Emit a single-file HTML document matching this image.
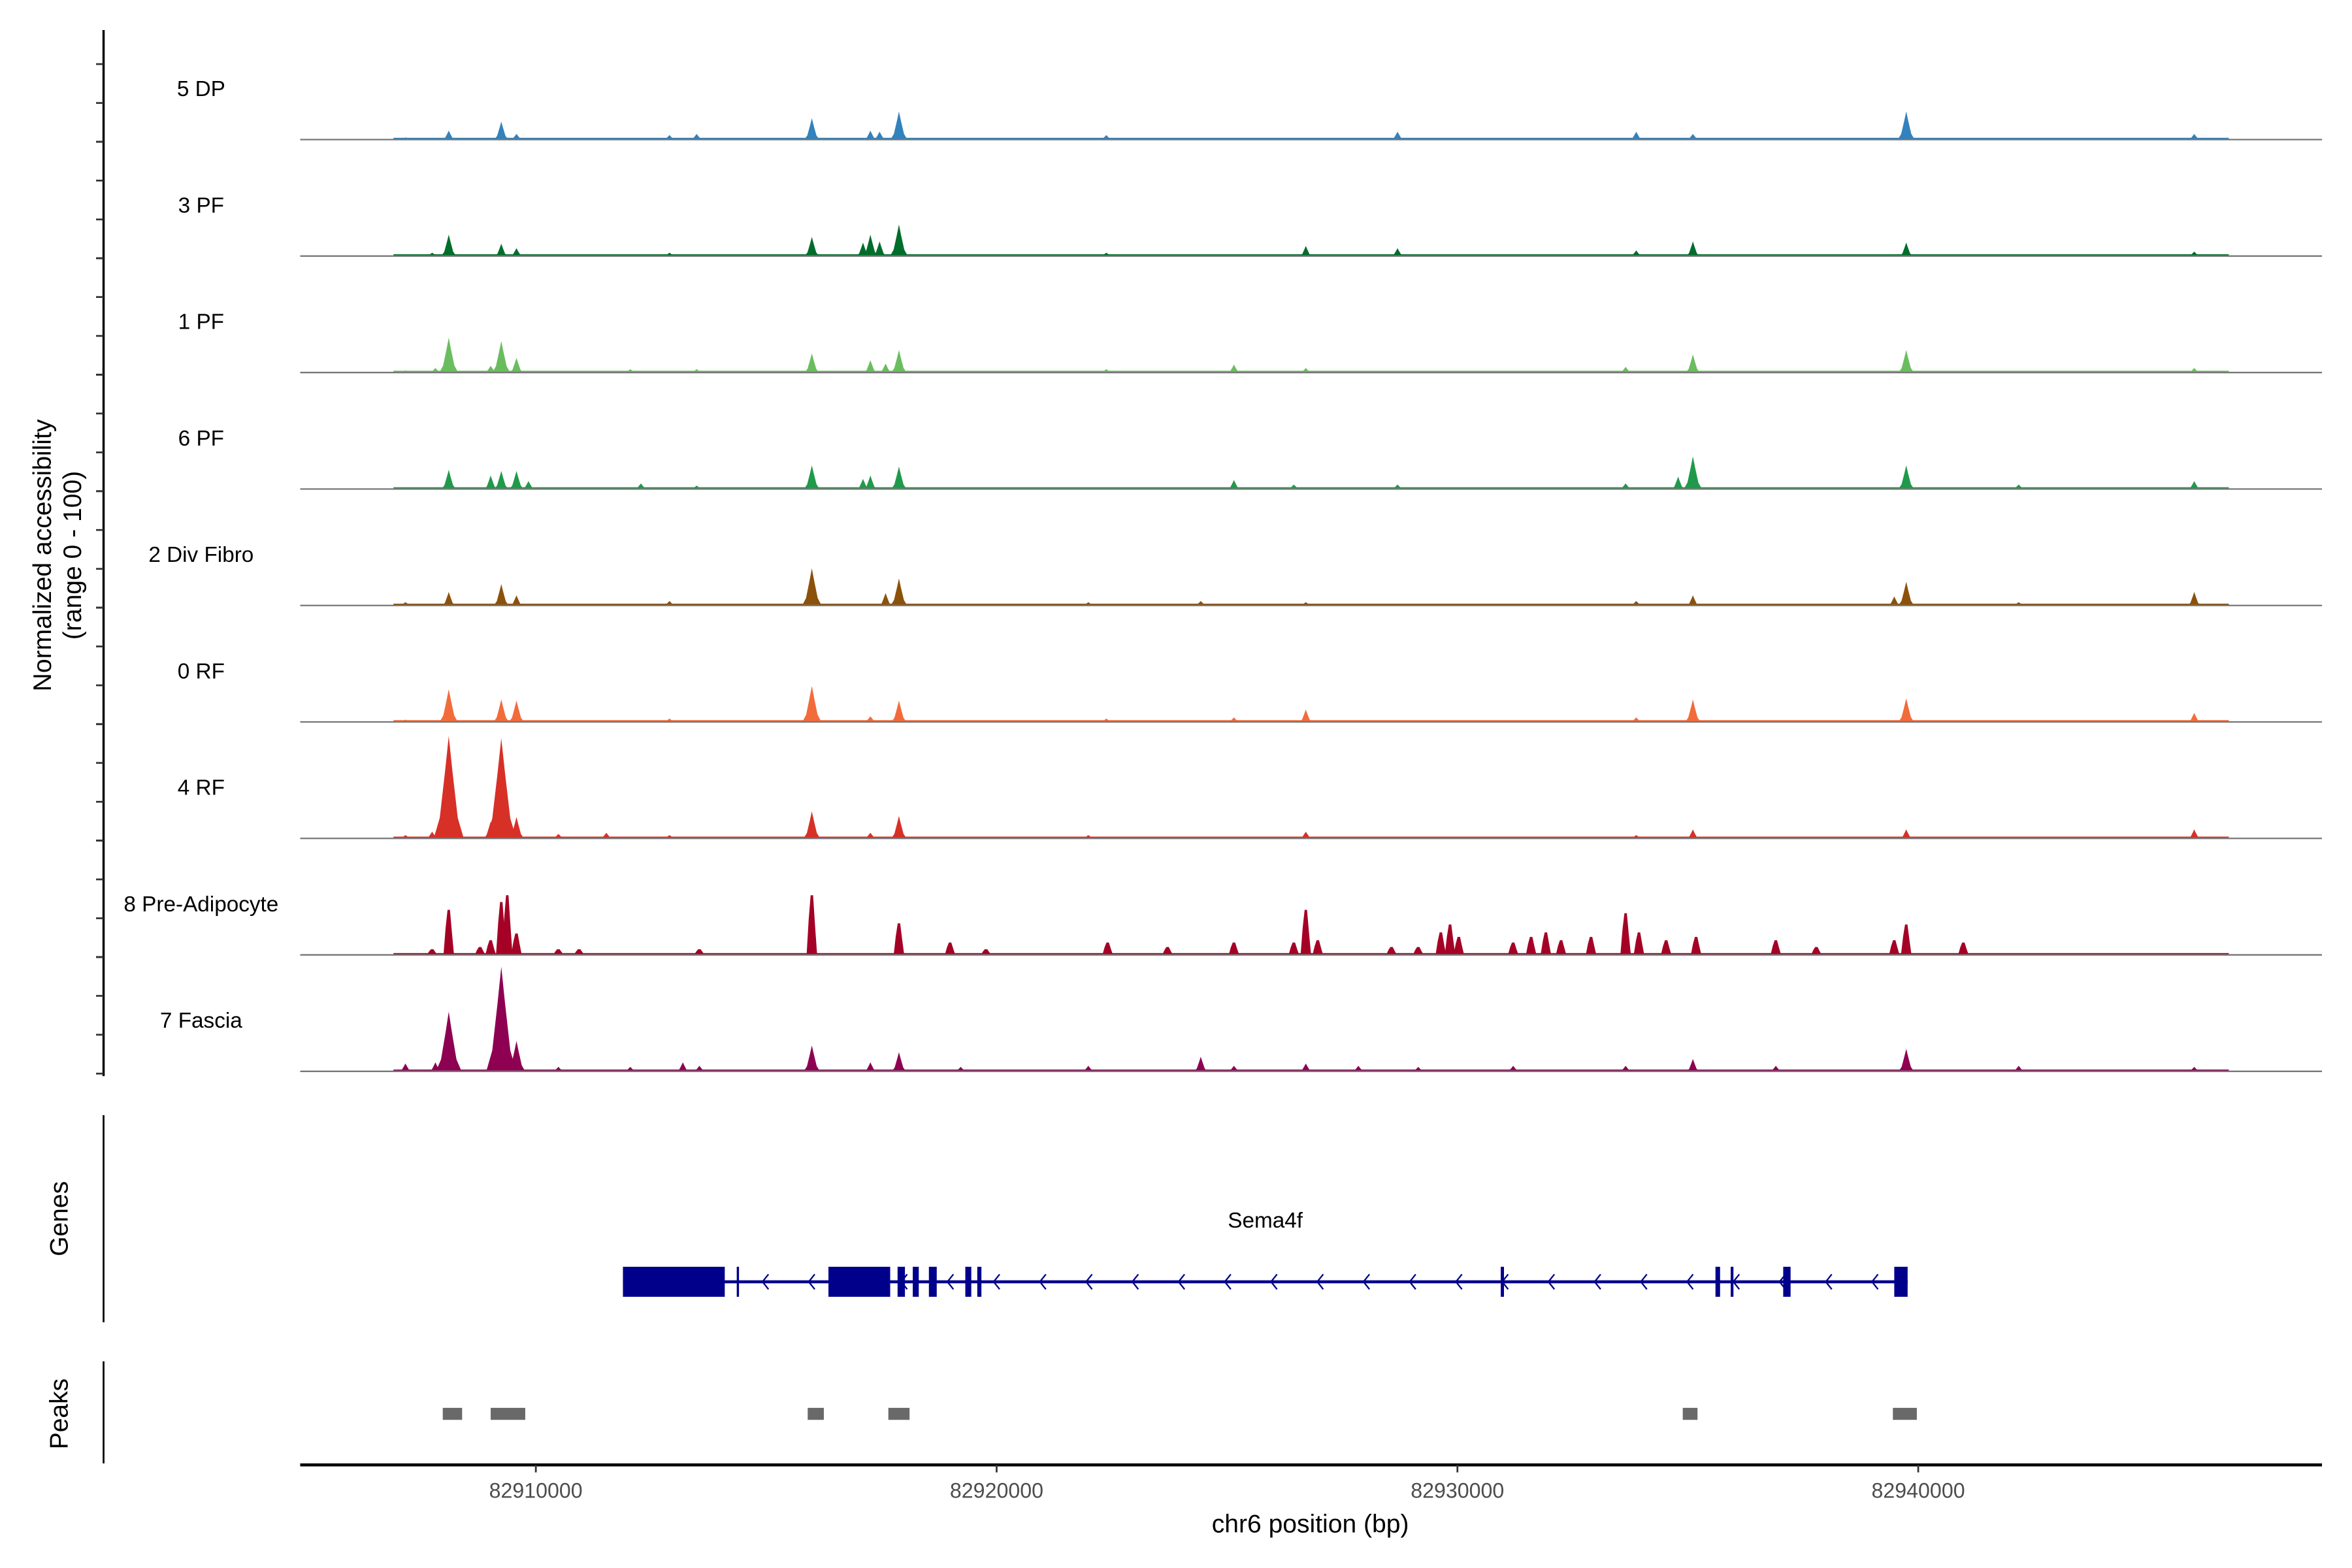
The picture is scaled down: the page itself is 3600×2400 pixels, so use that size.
<!DOCTYPE html>
<html><head><meta charset="utf-8"><style>
html,body{margin:0;padding:0;background:#fff}
svg{display:block}
text{font-family:"Liberation Sans",Arial,sans-serif}
</style></head><body>
<svg id="chart" width="3600" height="2400" viewBox="0 0 1567 1044.7" preserveAspectRatio="none" xmlns="http://www.w3.org/2000/svg">
<rect width="1567" height="1045" fill="#fff"/>
<g id="tracks"></g>
<g id="leftaxis"></g>
<text transform="translate(34,370) rotate(-90)" text-anchor="middle" font-size="17" fill="#000">Normalized accessibility</text>
<text transform="translate(54,370) rotate(-90)" text-anchor="middle" font-size="17" fill="#000">(range 0 - 100)</text>
<line x1="69" y1="743" x2="69" y2="881" stroke="#000" stroke-width="1.2"/>
<text transform="translate(45,812) rotate(-90)" text-anchor="middle" font-size="17">Genes</text>
<g id="gene"></g>
<line x1="69" y1="907" x2="69" y2="975" stroke="#000" stroke-width="1.2"/>
<text transform="translate(45,942) rotate(-90)" text-anchor="middle" font-size="17">Peaks</text>
<g id="peaks"></g>
<g id="xaxis"></g>
<text x="873" y="1021" text-anchor="middle" font-size="17">chr6 position (bp)</text>
</svg>
<script>
const trackNames = ["5 DP","3 PF","1 PF","6 PF","2 Div Fibro","0 RF","4 RF","8 Pre-Adipocyte","7 Fascia"];
const trackColors = ["#3182bd","#006d2c","#6abd5e","#1f9a4b","#8c510a","#f26b3a","#d73027","#a50026","#8e0152"];
// peaks per track: positions (kb) and heights (0-100)
const posDP = [82907.17,82908.11,82909.25,82909.58,82912.90,82913.49,82915.99,82917.26,82917.46,82917.88,82922.38,82928.70,82933.88,82935.11,82939.74,82945.99];
const valDP = [2,8,16,5,4,5,19,8,7,25,4,7,7,5,25,5];
const pos3PF = [82907.75,82908.11,82909.25,82909.58,82912.90,82915.99,82917.10,82917.26,82917.46,82917.88,82922.38,82926.71,82928.70,82933.88,82935.11,82939.74,82945.99];
const val3PF = [3,19,11,7,3,17,12,19,13,28,3,9,7,5,13,12,4];
const pos1PF = [82907.17,82907.82,82908.11,82909.02,82909.25,82909.58,82912.05,82913.49,82915.99,82917.26,82917.59,82917.88,82922.38,82925.15,82926.71,82933.65,82935.11,82939.74,82945.99];
const val1PF = [2,4,31,6,28,13,3,3,17,11,8,20,3,7,4,5,16,20,4];
const pos6PF = [82908.11,82909.02,82909.25,82909.58,82909.84,82912.28,82913.49,82915.99,82917.10,82917.26,82917.88,82925.15,82926.45,82928.70,82933.65,82934.79,82935.11,82939.74,82942.18,82945.99];
const val6PF = [17,12,16,16,7,5,3,21,9,12,20,8,4,4,5,11,29,21,4,7];
const posDiv = [82907.17,82908.11,82909.25,82909.58,82912.90,82915.99,82917.59,82917.88,82921.99,82924.43,82926.71,82933.88,82935.11,82939.48,82939.74,82942.18,82945.99];
const valDiv = [3,12,19,9,4,33,11,24,3,4,3,4,9,8,21,3,12];
const posRF0 = [82907.17,82908.11,82909.25,82909.58,82912.90,82915.99,82917.26,82917.88,82922.38,82925.15,82926.71,82933.88,82935.11,82939.74,82945.99];
const valRF0 = [2,29,20,19,3,32,5,19,3,4,11,4,20,21,8];
const posRF4 = [82907.17,82907.75,82908.11,82909.02,82909.25,82909.58,82910.49,82911.53,82912.90,82915.99,82917.26,82917.88,82921.99,82926.71,82933.88,82935.11,82939.74,82945.99];
const valRF4 = [3,6,91,15,89,19,4,5,3,24,5,20,3,6,3,8,8,8];
const posPre = [82907.75,82908.11,82908.79,82909.02,82909.25,82909.38,82909.58,82910.49,82910.94,82913.55,82915.99,82917.88,82918.99,82919.77,82922.41,82923.71,82925.15,82926.45,82926.71,82926.97,82928.57,82929.15,82929.64,82929.84,82930.03,82931.21,82931.60,82931.92,82932.25,82932.90,82933.65,82933.94,82934.53,82935.18,82936.91,82937.79,82939.48,82939.74,82940.98];
const valPre = [5,40,7,13,47,53,19,5,5,5,53,28,11,5,11,7,11,11,40,13,7,7,20,27,16,11,16,20,13,16,37,20,13,16,13,7,13,27,11];
const posFas = [82907.17,82907.82,82908.11,82909.02,82909.25,82909.58,82910.49,82912.05,82913.19,82913.55,82915.99,82917.26,82917.88,82919.22,82921.99,82924.43,82925.15,82926.71,82927.85,82929.15,82931.21,82933.65,82935.11,82936.91,82939.74,82942.18,82945.99];
const valFas = [7,8,53,9,93,27,4,4,8,5,23,8,17,4,5,13,5,7,5,4,5,5,11,5,20,5,4];
const trackPos = [posDP,pos3PF,pos1PF,pos6PF,posDiv,posRF0,posRF4,posPre,posFas];
const trackVal = [valDP,val3PF,val1PF,val6PF,valDiv,valRF0,valRF4,valPre,valFas];
const floorStart = 82906.91, floorEnd = 82946.74;
const geneExonStart = [82911.89,82914.36,82916.35,82917.85,82918.18,82918.53,82919.32,82919.58,82930.94,82935.60,82935.93,82937.07,82939.48];
const geneExonEnd   = [82914.10,82914.40,82917.69,82918.01,82918.31,82918.70,82919.45,82919.67,82931.01,82935.70,82935.99,82937.23,82939.77];
const geneStart = 82911.89, geneEnd = 82939.77;
const peakStart = [82907.98,82909.02,82915.90,82917.65,82934.89,82939.45];
const peakEnd   = [82908.40,82909.77,82916.25,82918.11,82935.21,82939.97];
const xTicks = [82910000,82920000,82930000,82940000];

const NS="http://www.w3.org/2000/svg";
function mk(tag,attrs,parent){const e=document.createElementNS(NS,tag);for(const k in attrs)e.setAttribute(k,attrs[k]);parent.appendChild(e);return e;}
const xs = kb => 357 + (kb - 82910) * 30.7;
const base0 = 93, step = 77.6, yPx = 0.75;
const tracksG=document.getElementById('tracks');
trackNames.forEach((name,i)=>{
  const b = base0 + i*step;
  const g = mk('g',{},tracksG);
  
  
  const t = mk('text',{x:134,y:b-29,'text-anchor':'middle','font-size':14.5,fill:'#000'},g);
  t.textContent=name;
  
  
  const fl = mk('rect',{x:xs(floorStart),y:b-1.2,width:xs(floorEnd)-xs(floorStart),height:1.2,fill:trackColors[i]},g);
  
  
  const P=trackPos[i], V=trackVal[i];
  P.forEach((p,j)=>{
    const x=xs(p), h=V[j]*yPx;
    const w = i===7 ? 3.5 : Math.max(4, Math.min(10, 3+h*0.14));
    let pts;
    if(i===7) pts=`${x-w},${b} ${x-w*0.6},${b-h*0.6} ${x-0.8},${b-h} ${x+0.8},${b-h} ${x+w*0.6},${b-h*0.5} ${x+w},${b}`;
    else pts=`${x-w},${b} ${x-w*0.6},${b-h*0.2} ${x-w*0.25},${b-h*0.65} ${x},${b-h} ${x+w*0.25},${b-h*0.65} ${x+w*0.6},${b-h*0.2} ${x+w},${b}`;
    const pg=mk('polygon',{points:pts,fill:trackColors[i]},g);
    
    
  });
  const bl=mk('line',{x1:200,y1:b,x2:1547,y2:b,stroke:'#777','stroke-width':1},g);
  
  
});
const la=document.getElementById('leftaxis');
mk('line',{x1:69,y1:20,x2:69,y2:717,stroke:'#000','stroke-width':1.5},la);
for(let i=0;i<9;i++){const b=base0+i*step;for(let k=0;k<4;k++){const y=b+1.5-k*25.9;if(y<20)continue;
  const tk=mk('line',{x1:64,y1:y,x2:69,y2:y,stroke:'#333','stroke-width':1.2},la);
  
  }}
const gg=document.getElementById('gene');
const gl=mk('text',{x:843,y:818,'text-anchor':'middle','font-size':14.5},gg);gl.textContent='Sema4f';


mk('line',{x1:xs(geneStart),y1:854,x2:xs(geneEnd),y2:854,stroke:'#00008b','stroke-width':2},gg);
for(let x=510;x<1250;x+=30.8){const a=mk('polyline',{points:`${x+2},849 ${x-2},854 ${x+2},859`,fill:'none',stroke:'#00008b','stroke-width':1},gg);
  
  }
geneExonStart.forEach((s,j)=>{const r=mk('rect',{x:xs(s),y:844,width:Math.max(1.5,xs(geneExonEnd[j])-xs(s)),height:20,fill:'#00008b'},gg);
  
  });
const pk=document.getElementById('peaks');
peakStart.forEach((s,j)=>{const r=mk('rect',{x:xs(s),y:938,width:xs(peakEnd[j])-xs(s),height:8,fill:'#696969'},pk);
  
  });
const xa=document.getElementById('xaxis');
mk('line',{x1:200,y1:976,x2:1547,y2:976,stroke:'#000','stroke-width':2},xa);
xTicks.forEach(t=>{const x=xs(t/1000);
  const tl=mk('line',{x1:x,y1:976,x2:x,y2:981,stroke:'#333','stroke-width':1.2},xa);
  
  
  const tx=mk('text',{x:x,y:998,'text-anchor':'middle','font-size':14,fill:'#4d4d4d'},xa);tx.textContent=t;
  
  });
</script>
</body></html>
